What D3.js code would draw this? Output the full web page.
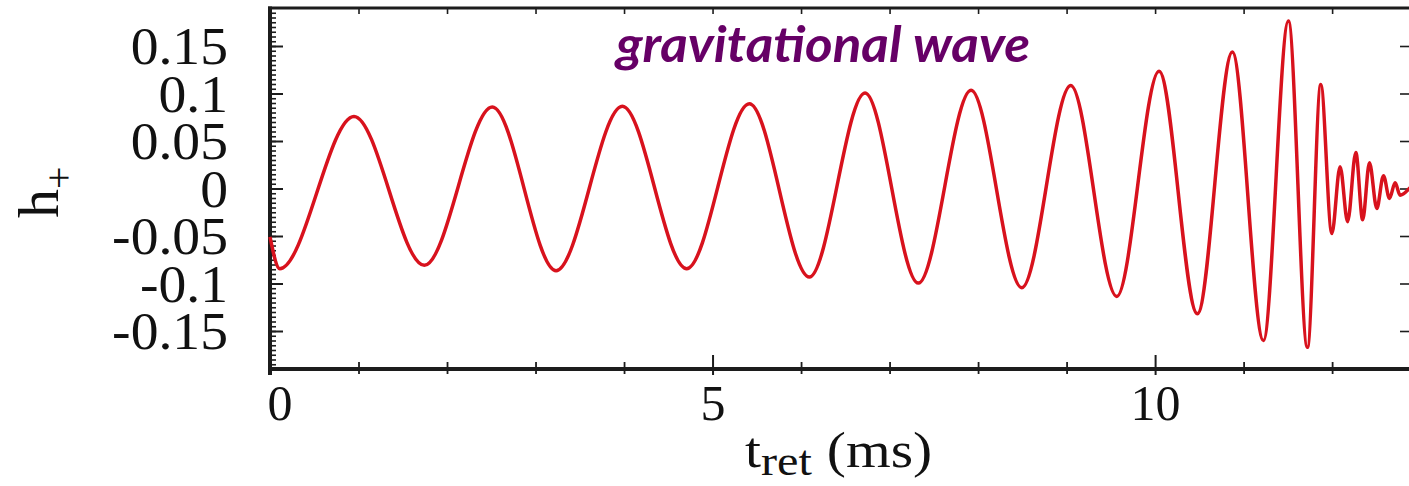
<!DOCTYPE html>
<html>
<head>
<meta charset="utf-8">
<script src="https://cdn.jsdelivr.net/npm/d3@7"></script>
<style>
  body { margin: 0; background: #ffffff; }
  svg { display: block; }
</style>
</head>
<body>
<svg id="chart" width="1409" height="486"></svg>
<script>
// Waveform turning points: retarded time (ms) and strain h+
const tMs = [0, 0.11, 0.949, 1.744, 2.512, 3.232, 3.981, 4.708, 5.416, 6.094, 6.723,
  7.325, 7.921, 8.494, 9.047, 9.567, 10.045, 10.478, 10.873, 11.224, 11.506,
  11.721, 11.872, 11.997, 12.09, 12.175, 12.268, 12.345, 12.422, 12.505, 12.58,
  12.648, 12.712, 12.768, 12.88];
const hPlus = [-0.051, -0.0844, 0.0759, -0.0809, 0.0858, -0.0865, 0.0865, -0.0844, 0.0893, -0.0932, 0.1006,
  -0.0996, 0.1034, -0.1044, 0.1083, -0.1136, 0.1235, -0.1319, 0.1436, -0.160, 0.1763,
  -0.1672, 0.1094, -0.0474, 0.023, -0.035, 0.038, -0.033, 0.027, -0.021, 0.0135,
  -0.0104, 0.006, -0.007, 0.001];

const yTicks = [-0.15, -0.1, -0.05, 0, 0.05, 0.1, 0.15];
const yTickLabels = ["-0.15", "-0.1", "-0.05", "0", "0.05", "0.1", "0.15"];
const xTicks = [0, 5, 10];
const xTickLabels = ["0", "5", "10"];
const xMinorTicks = [1, 2, 3, 4, 6, 7, 8, 9, 11, 12];
const titleText = "gravitational wave";

const svg = d3.select("#chart");
const plotLeft = 270, plotRight = 1410, plotTop = 8, plotBottom = 369;

const x = d3.scaleLinear().domain([0, 12.88]).range([plotLeft, plotRight]);
const y = d3.scaleLinear().domain([-0.19, 0.19]).range([plotBottom, plotTop]);

const axisColor = "#1c1c1c";
const serif = "'Liberation Serif', 'DejaVu Serif', serif";
const stretch = 1.07;  // slight horizontal widening of the serif labels

// minor y ticks every 0.005, pointing into the plot
const yMinor = d3.range(-0.185, 0.1899, 0.005);
svg.append("g")
  .attr("transform", `translate(${plotLeft},0)`)
  .call(d3.axisLeft(y).tickValues(yMinor).tickSize(-6).tickFormat(""))
  .call(g => g.select(".domain").remove())
  .call(g => g.selectAll("line").attr("stroke", axisColor).attr("stroke-width", 1.6));

// major y ticks with labels
svg.append("g")
  .attr("transform", `translate(${plotLeft},0)`)
  .call(d3.axisLeft(y).tickValues(yTicks).tickSize(-13).tickPadding(42)
    .tickFormat((d, i) => yTickLabels[i]))
  .call(g => g.select(".domain").remove())
  .call(g => g.selectAll("line").attr("stroke", axisColor).attr("stroke-width", 2))
  .call(g => g.selectAll("text")
    .attr("font-family", serif).attr("font-size", 52).attr("fill", "#111")
    .attr("x", -42 / stretch)
    .attr("transform", `scale(${stretch},1)`)
    .attr("dy", "0.34em"));

// right-side major ticks
svg.append("g")
  .attr("transform", `translate(${plotRight},0)`)
  .call(d3.axisRight(y).tickValues(yTicks).tickSize(-10).tickFormat(""))
  .call(g => g.select(".domain").remove())
  .call(g => g.selectAll("line").attr("stroke", axisColor).attr("stroke-width", 1.6));

// bottom axis: minor and major ticks
svg.append("g")
  .attr("transform", `translate(0,${plotBottom})`)
  .call(d3.axisBottom(x).tickValues(xMinorTicks).tickSize(5).tickFormat(""))
  .call(g => g.select(".domain").remove())
  .call(g => g.selectAll("line").attr("stroke", axisColor).attr("stroke-width", 1.8).attr("y1", -7));

svg.append("g")
  .attr("transform", `translate(0,${plotBottom})`)
  .call(d3.axisBottom(x).tickValues(xTicks).tickSize(6).tickPadding(9)
    .tickFormat((d, i) => xTickLabels[i]))
  .call(g => g.select(".domain").remove())
  .call(g => g.selectAll("line").attr("stroke", axisColor).attr("stroke-width", 2).attr("y1", -14))
  .call(g => g.selectAll("text")
    .attr("font-family", serif).attr("font-size", 50).attr("fill", "#111")
    .attr("dy", "0.71em"))
  .call(g => g.selectAll(".tick").filter(d => d === 0).select("text")
    .attr("text-anchor", "start").attr("x", -3));

// top axis ticks
svg.append("g")
  .attr("transform", `translate(0,${plotTop})`)
  .call(d3.axisTop(x).tickValues(xMinorTicks.concat(xTicks)).tickSize(-6).tickFormat(""))
  .call(g => g.select(".domain").remove())
  .call(g => g.selectAll("line").attr("stroke", axisColor).attr("stroke-width", 1.6));

// frame lines
svg.append("line").attr("x1", plotLeft).attr("x2", plotLeft).attr("y1", plotTop - 1.5).attr("y2", plotBottom + 6)
  .attr("stroke", axisColor).attr("stroke-width", 4);
svg.append("line").attr("x1", plotLeft - 2).attr("x2", plotRight).attr("y1", plotBottom).attr("y2", plotBottom)
  .attr("stroke", axisColor).attr("stroke-width", 4);
svg.append("line").attr("x1", plotLeft - 2).attr("x2", plotRight).attr("y1", plotTop).attr("y2", plotTop)
  .attr("stroke", axisColor).attr("stroke-width", 3);

// waveform
const pts = tMs.map((t, i) => [t, hPlus[i]]);
const line = d3.line()
  .x(d => x(d[0]))
  .y(d => y(d[1]))
  .curve(d3.curveMonotoneX);
svg.append("path")
  .datum(pts)
  .attr("d", line)
  .attr("fill", "none")
  .attr("stroke", "#d8121d")
  .attr("stroke-width", 3.5)
  .attr("stroke-linejoin", "round");

// title inside plot
svg.append("text")
  .attr("x", 616).attr("y", 62)
  .attr("font-family", "Lato, 'Open Sans', sans-serif")
  .attr("font-style", "italic").attr("font-weight", 700)
  .attr("font-size", 50)
  .attr("textLength", 414).attr("lengthAdjust", "spacingAndGlyphs")
  .attr("fill", "#660066")
  .text(titleText);

// y-axis label h_+
const yLab = svg.append("text")
  .attr("transform", "translate(58,218) rotate(-90)")
  .attr("font-family", serif).attr("font-size", 58).attr("fill", "#111");
yLab.append("tspan").text("h");
yLab.append("tspan").attr("font-size", 40).attr("dy", 14).text("+");

// x-axis label t_ret (ms)
const xLab = svg.append("text")
  .attr("transform", "translate(745,467) scale(1.15,1)")
  .attr("font-family", serif).attr("font-size", 50).attr("fill", "#111");
xLab.append("tspan").text("t");
xLab.append("tspan").attr("font-size", 42).attr("dy", 8).text("ret");
xLab.append("tspan").attr("dy", -8).attr("dx", 13).text("(ms)");
</script>
</body>
</html>
